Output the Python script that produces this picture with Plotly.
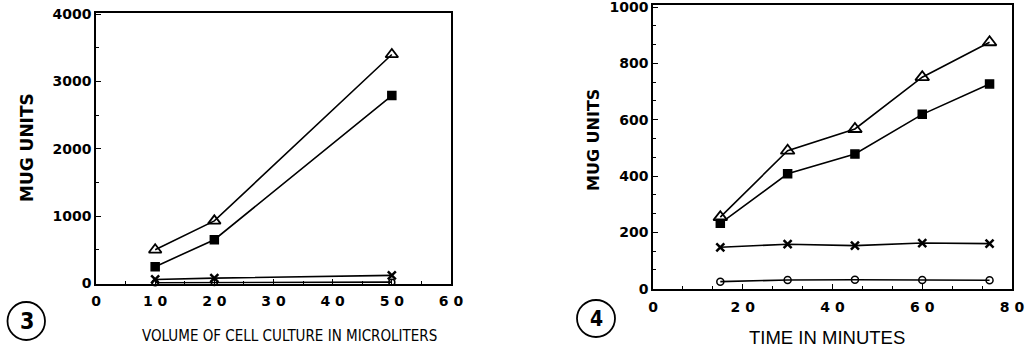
import plotly.graph_objects as go

# ---- Panel 3 data: MUG units vs volume of cell culture (microliters)
vol = [10, 20, 50]
vol_triangle = [500, 930, 3400]
vol_square = [250, 650, 2790]
vol_x = [60, 80, 120]
vol_circle = [10, 15, 20]

# ---- Panel 4 data: MUG units vs time (minutes)
time_min = [15, 30, 45, 60, 75]
time_triangle = [254, 490, 567, 751, 875]
time_square = [232, 408, 478, 619, 727]
time_x = [147, 158, 153, 162, 160]
time_circle = [25, 31, 32, 31, 30]

x3_ticks = [0, 10, 20, 30, 40, 50, 60]
x3_text = ["0", "1 0", "2 0", "3 0", "4 0", "5 0", "6 0"]
y3_ticks = [0, 1000, 2000, 3000, 4000]
x4_ticks = [0, 20, 40, 60, 80]
x4_text = ["0", "2 0", "4 0", "6 0", "8 0"]
y4_ticks = [0, 200, 400, 600, 800, 1000]

W, H = 1035, 351
def px(x):
    return x / W
def py(y):
    return 1 - y / H

fig = go.Figure()

line = dict(color="black", width=1.6)

def add_series(x, y, symbol, size, xa, ya, mline=1.5):
    fig.add_trace(go.Scatter(
        x=x, y=y, mode="lines+markers", xaxis=xa, yaxis=ya,
        line=line, cliponaxis=False,
        marker=dict(symbol=symbol, size=size, color="black",
                    line=dict(color="black", width=mline)),
        showlegend=False))

add_series(vol, vol_circle, "circle-open", 6, "x", "y")
add_series(vol, vol_x, "x-thin-open", 8, "x", "y", 2.5)
add_series(vol, vol_square, "square", 8, "x", "y")
add_series(vol, vol_triangle, "triangle-up-open", 11, "x", "y", 1.8)

add_series(time_min, time_circle, "circle-open", 7, "x2", "y2")
add_series(time_min, time_x, "x-thin-open", 8, "x2", "y2", 2.5)
add_series(time_min, time_square, "square", 8, "x2", "y2")
add_series(time_min, time_triangle, "triangle-up-open", 12, "x2", "y2", 1.8)

tickfont = dict(family="DejaVu Sans", size=14, color="black", weight="bold")
axcommon = dict(showgrid=False, zeroline=False, showline=True, linecolor="black",
                linewidth=1.5, mirror=True, ticks="inside", ticklen=5,
                tickcolor="black", tickwidth=1.2, tickfont=tickfont,
                automargin=False, ticklabeloverflow="allow")

fig.update_layout(
    width=W, height=H,
    margin=dict(l=0, r=0, t=0, b=0),
    paper_bgcolor="white", plot_bgcolor="white",
    xaxis=dict(domain=[px(96), px(451)], range=[0, 60], anchor="y",
               tickvals=x3_ticks, ticktext=x3_text, ticklabelstandoff=4,
               minor=dict(dtick=5, ticks="inside", ticklen=3, tickcolor="black"),
               **axcommon),
    yaxis=dict(domain=[py(283.5), py(12.7)], range=[0, 4020], anchor="x",
               tickvals=y3_ticks,
               minor=dict(dtick=500, ticks="inside", ticklen=3, tickcolor="black"),
               **axcommon),
    xaxis2=dict(domain=[px(653), px(1012)], range=[0, 80], anchor="y2",
                tickvals=x4_ticks, ticktext=x4_text, ticklabelstandoff=5,
                minor=dict(dtick=20 / 3, ticks="inside", ticklen=3, tickcolor="black"),
                **axcommon),
    yaxis2=dict(domain=[py(288.7), py(4.5)], range=[0, 1009], anchor="x2",
                tickvals=y4_ticks,
                minor=dict(dtick=200 / 3, ticks="inside", ticklen=3, tickcolor="black"),
                **axcommon),
)

annotations = [
    dict(text="MUG UNITS", x=px(27), y=py(148), textangle=-90,
         font=dict(family="DejaVu Sans", size=17, color="black", weight="bold")),
    dict(text="MUG UNITS", x=px(593), y=py(140), textangle=-90,
         font=dict(family="DejaVu Sans", size=16, color="black", weight="bold")),
    dict(text="VOLUME OF CELL CULTURE IN MICROLITERS", x=px(289), y=py(336),
         font=dict(family="DejaVu Sans Condensed", size=15, color="black")),
    dict(text="TIME IN MINUTES", x=px(827), y=py(337),
         font=dict(family="Liberation Sans", size=18.5, color="black")),
    dict(text="3", x=px(26.5), y=py(321),
         font=dict(family="DejaVu Sans Condensed", size=23, color="black", weight="bold")),
    dict(text="4", x=px(596.5), y=py(318.5),
         font=dict(family="DejaVu Sans Condensed", size=21, color="black", weight="bold")),
]
for a in annotations:
    a.update(xref="paper", yref="paper", showarrow=False,
             xanchor="center", yanchor="middle")
fig.update_layout(annotations=annotations)

fig.add_shape(type="circle", xref="paper", yref="paper",
              x0=px(7.5), x1=px(45), y0=py(340), y1=py(302),
              line=dict(color="black", width=1.8))
fig.add_shape(type="circle", xref="paper", yref="paper",
              x0=px(577), x1=px(615), y0=py(337), y1=py(300),
              line=dict(color="black", width=1.8))

# remove the default page margin so the figure sits at the window's top-left corner
fig.write_html("out.html",
               config={"displayModeBar": False},
               post_script="document.body.style.margin='0';document.body.style.overflow='hidden';")
